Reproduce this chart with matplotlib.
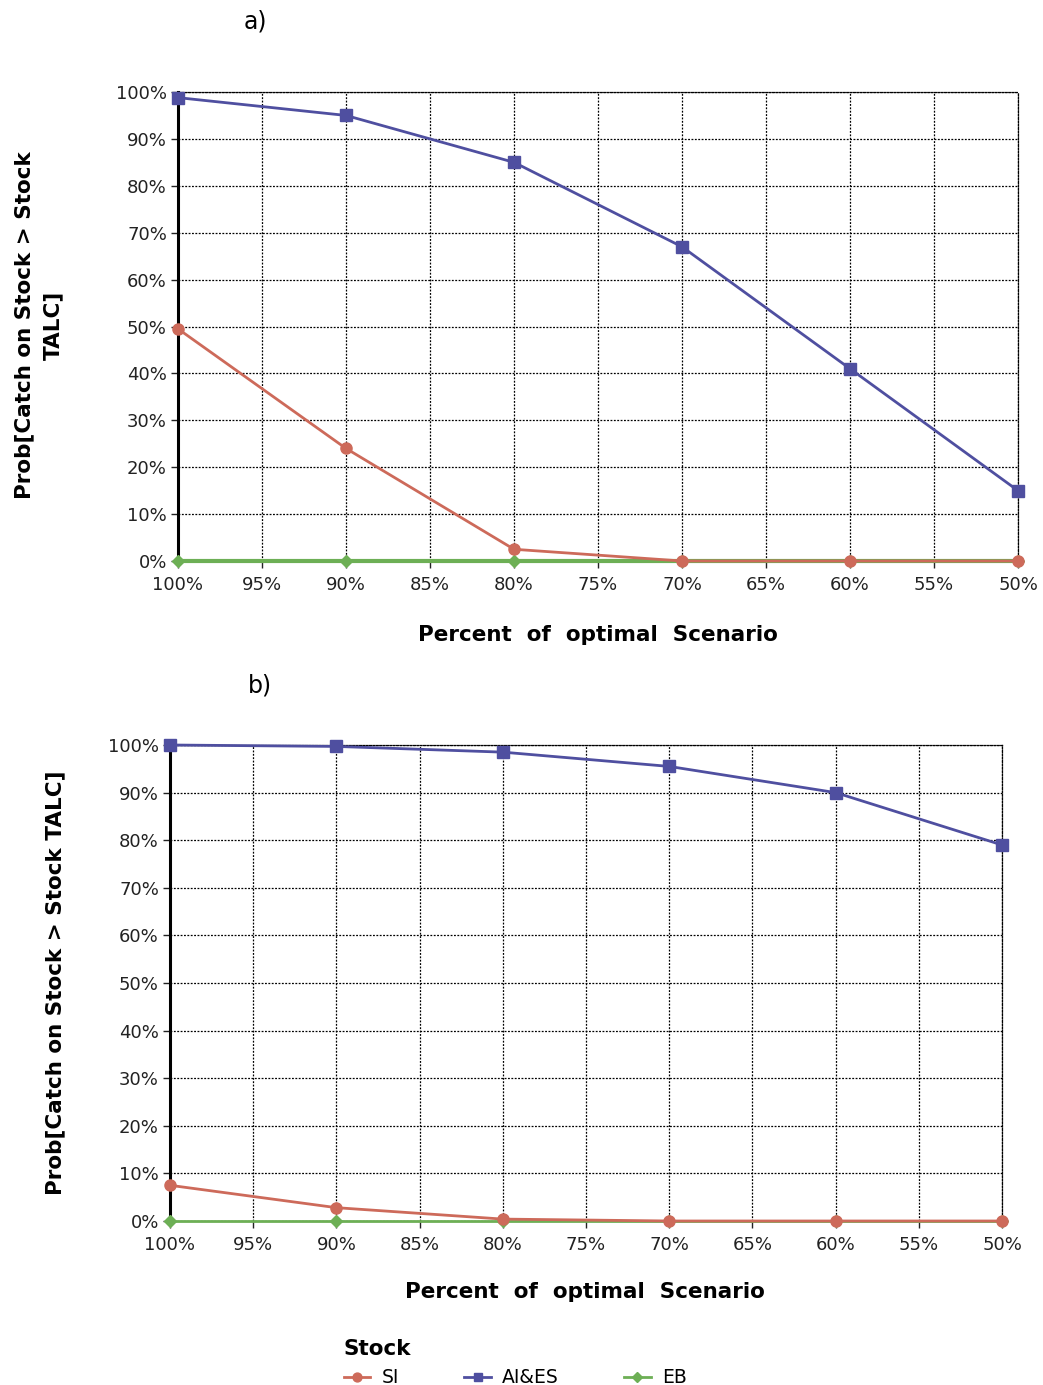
import matplotlib
matplotlib.use("Agg")
import matplotlib.pyplot as plt
from matplotlib.ticker import FuncFormatter

# percent of optimal scenario (x axis runs from 100% down to 50%)
scenario = [100, 90, 80, 70, 60, 50]

# panel a
si_a = [49.5, 24, 2.5, 0, 0, 0]
aies_a = [98.8, 95, 85, 67, 41, 15]
eb_a = [0, 0, 0, 0, 0, 0]

# panel b
si_b = [7.5, 2.8, 0.4, 0, 0, 0]
aies_b = [100, 99.7, 98.5, 95.5, 90, 79]
eb_b = [0, 0, 0, 0, 0, 0]

x_ticks = [100, 95, 90, 85, 80, 75, 70, 65, 60, 55, 50]
y_ticks = [0, 10, 20, 30, 40, 50, 60, 70, 80, 90, 100]

c_si = "#cd6a5a"
c_aies = "#4f4fa0"
c_eb = "#6daf55"

plt.rcParams["font.family"] = "DejaVu Sans"

W, H = 1043, 1385
fig = plt.figure(figsize=(W / 100, H / 100), dpi=100)
fig.patch.set_facecolor("white")

pct = FuncFormatter(lambda v, p: f"{v:.0f}%")
dots = (0, (1.5, 1.2))


def panel(rect, si, aies, eb, eb_lw):
    l, t, r, b = rect
    ax = fig.add_axes([l / W, 1 - b / H, (r - l) / W, (b - t) / H])
    ax.plot(scenario, eb, color=c_eb, lw=eb_lw, marker="D", ms=6, clip_on=False, zorder=3, label="EB")
    ax.plot(scenario, si, color=c_si, lw=2, marker="o", ms=8, clip_on=False, zorder=4, label="SI")
    ax.plot(scenario, aies, color=c_aies, lw=2, marker="s", ms=8, clip_on=False, zorder=5, label="AI&ES")
    ax.set_xlim(100, 50)
    ax.set_ylim(0, 100)
    ax.set_xticks(x_ticks)
    ax.set_yticks(y_ticks)
    ax.xaxis.set_major_formatter(pct)
    ax.yaxis.set_major_formatter(pct)
    ax.grid(True, color="black", linestyle=dots, lw=0.9)
    ax.spines["bottom"].set_visible(False)
    for s in ("top", "right"):
        ax.spines[s].set_linestyle(dots)
        ax.spines[s].set_linewidth(0.9)
    ax.spines["left"].set_linewidth(2.2)
    ax.spines["left"].set_zorder(2)
    ax.tick_params(axis="both", length=5, width=1, direction="out", labelsize=13, colors="#222222")
    ax.tick_params(axis="x", pad=6)
    ax.tick_params(axis="y", pad=3)
    return ax


ax_a = panel((178, 92, 1018, 561), si_a, aies_a, eb_a, 3)
ax_b = panel((170, 745, 1002, 1221), si_b, aies_b, eb_b, 2)

fig.text(255 / W, 1 - 22 / H, "a)", fontsize=17, ha="center", va="center")
fig.text(260 / W, 1 - 686 / H, "b)", fontsize=17, ha="center", va="center")

fig.text(39 / W, 1 - 325 / H, "Prob[Catch on Stock > Stock\nTALC]", rotation=90,
         fontsize=15.5, fontweight="bold", ha="center", va="center", linespacing=1.55)
fig.text(55 / W, 1 - 983 / H, "Prob[Catch on Stock > Stock TALC]", rotation=90,
         fontsize=15.5, fontweight="bold", ha="center", va="center")

fig.text(598 / W, 1 - 635 / H, "Percent  of  optimal  Scenario", fontsize=15.5,
         fontweight="bold", ha="center", va="center")
fig.text(585 / W, 1 - 1292 / H, "Percent  of  optimal  Scenario", fontsize=15.5,
         fontweight="bold", ha="center", va="center")

h, lab = ax_b.get_legend_handles_labels()
order = [lab.index("SI"), lab.index("AI&ES"), lab.index("EB")]
leg = fig.legend([h[i] for i in order], [lab[i] for i in order], ncol=3,
                 loc="upper left", bbox_to_anchor=(327 / W, 1 - 1322 / H),
                 frameon=False, title="Stock", fontsize=13.5, handlelength=1.4,
                 columnspacing=3.5, handletextpad=0.6, markerscale=0.8)
leg.get_title().set_fontweight("bold")
leg.get_title().set_fontsize(15.5)
leg._legend_box.align = "left"

fig.savefig("out.png", dpi=100)
